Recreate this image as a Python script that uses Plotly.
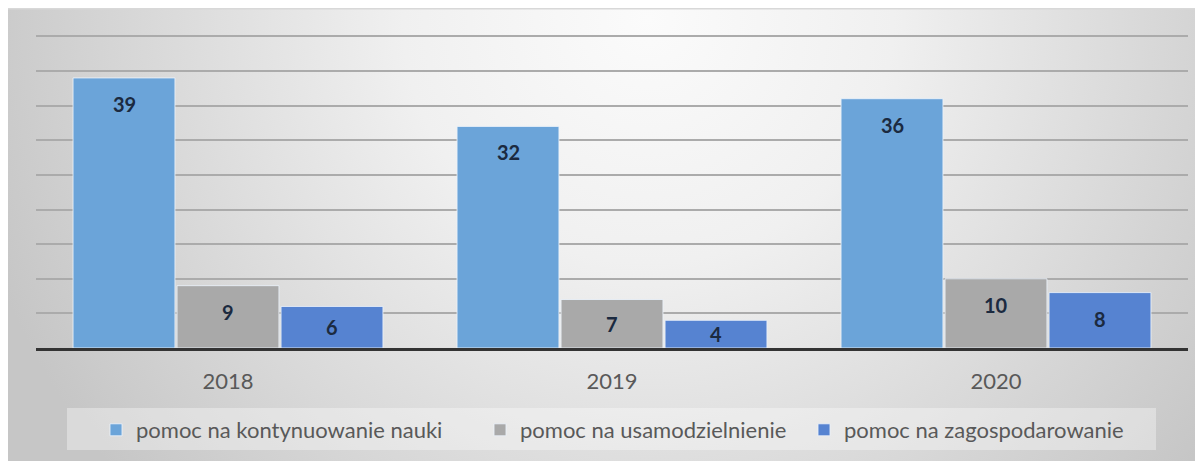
import base64
import plotly.graph_objects as go

# ---- data ----
years = ["2018", "2019", "2020"]
series_names = [
    "pomoc na kontynuowanie nauki",
    "pomoc na usamodzielnienie",
    "pomoc na zagospodarowanie",
]
kontynuowanie = [39, 32, 36]
usamodzielnienie = [9, 7, 10]
zagospodarowanie = [6, 4, 8]
y_ticks = [0, 5, 10, 15, 20, 25, 30, 35, 40, 45]

colors = ["#6ba4d9", "#a9a9a9", "#5683d1"]

# ---- layout constants (figure pixels; page adds an 8px body margin) ----
OFF = 8
W, H = 1203 - OFF, 461 - OFF
YMAX = 45.2
ML, MR, MT, MB = 36 - OFF, 15, 35 - OFF, 113
PW = W - ML - MR
PH = H - MT - MB
BARGAP = 0.1875
BARGROUPGAP = 0.02

fig = go.Figure()
all_series = [kontynuowanie, usamodzielnienie, zagospodarowanie]
legend_ids = ["legend", "legend2", "legend3"]
for name, vals, col, lg in zip(series_names, all_series, colors, legend_ids):
    fig.add_trace(go.Bar(
        x=years, y=vals, name=name, legend=lg,
        marker=dict(color=col, line=dict(color="rgba(235,242,250,0.85)", width=1)),
        hoverinfo="x+y+name",
    ))

# data labels (category index on the category axis, shifted to each bar)
cat_px = PW / len(years)
slot_px = cat_px * (1 - BARGAP) / len(all_series)
px_per_unit = PH / YMAX
for i, vals in enumerate(all_series):
    xshift = (i - (len(all_series) - 1) / 2) * slot_px
    for ci, v in enumerate(vals):
        fig.add_annotation(
            x=ci, y=v, xref="x", yref="y",
            text=f"<b>{v}</b>", showarrow=False,
            xshift=xshift, yshift=-min(26, v * px_per_unit / 2),
            yanchor="middle",
            font=dict(family="Lato", size=20, color="#1b2a40"),
        )

# gradient background as svg image covering the whole paper
svg = f"""<svg xmlns='http://www.w3.org/2000/svg' width='{W}' height='{H}' viewBox='0 0 {W} {H}' preserveAspectRatio='none'>
<defs><radialGradient id='g' gradientUnits='userSpaceOnUse' cx='640' cy='10' r='700'>
<stop offset='0' stop-color='#fbfbfb'/><stop offset='0.35' stop-color='#f0f0f0'/><stop offset='1' stop-color='#c6c6c6'/></radialGradient></defs>
<rect x='0' y='0' width='{W}' height='{H}' fill='url(#g)'/>
<rect x='0' y='0' width='{W}' height='1.5' fill='#d8d8d8'/>
</svg>"""
uri = "data:image/svg+xml;base64," + base64.b64encode(svg.encode()).decode()
fig.add_layout_image(
    source=uri, xref="paper", yref="paper",
    x=-ML / PW, y=(H - MB) / PH,
    sizex=W / PW, sizey=H / PH,
    xanchor="left", yanchor="top", sizing="stretch", layer="below",
)

# legend box (page coords)
lx0, lx1, ly0, ly1 = 67 - OFF, 1156 - OFF, 408 - OFF, 450 - OFF
fig.add_shape(
    type="rect", xref="paper", yref="paper",
    x0=(lx0 - ML) / PW, x1=(lx1 - ML) / PW,
    y0=(H - MB - ly1) / PH, y1=(H - MB - ly0) / PH,
    fillcolor="rgba(255,255,255,0.35)", line=dict(width=0), layer="below",
)

legend_font = dict(family="Lato", size=22, color="#595959")
legend_x_page = [96, 480, 804]
legend_cfg = {}
for lg, lxp in zip(legend_ids, legend_x_page):
    legend_cfg[lg] = dict(
        orientation="h", x=(lxp - OFF - ML) / PW, xanchor="left",
        y=(H - MB - (430 - OFF)) / PH, yanchor="middle",
        bgcolor="rgba(0,0,0,0)", font=legend_font, itemwidth=30,
    )

fig.update_layout(
    width=W, height=H,
    margin=dict(l=ML, r=MR, t=MT, b=MB, autoexpand=False),
    paper_bgcolor="white",
    plot_bgcolor="rgba(0,0,0,0)",
    barmode="group", bargap=BARGAP, bargroupgap=BARGROUPGAP,
    font=dict(family="Lato", size=20, color="#595959"),
    showlegend=True,
    xaxis=dict(
        type="category", automargin=False, range=[-0.5, len(years) - 0.5],
        categoryorder="array", categoryarray=years,
        showline=True, linecolor="#333333", linewidth=3,
        ticks="", tickfont=dict(size=22, color="#595959"),
        ticklabelstandoff=12,
    ),
    yaxis=dict(
        range=[0, YMAX], tickvals=y_ticks, showticklabels=False, automargin=False,
        showgrid=True, gridcolor="#ababab", gridwidth=1.5,
        zeroline=False, showline=False, fixedrange=True,
    ),
    **legend_cfg,
)

fig.write_html("out.html")
